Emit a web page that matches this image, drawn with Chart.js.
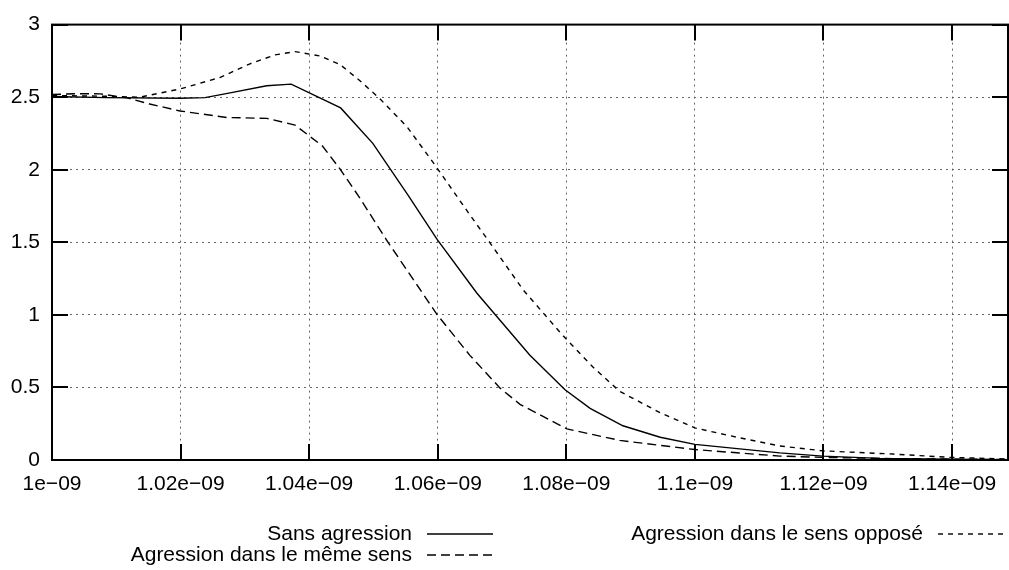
<!DOCTYPE html>
<html>
<head>
<meta charset="utf-8">
<script src="https://cdn.jsdelivr.net/npm/chart.js@4.4.0/dist/chart.umd.min.js"></script>
<style>
  html, body { margin: 0; padding: 0; background: #fff; }
  #wrap { width: 1009px; height: 570px; }
</style>
</head>
<body>
<div id="wrap"><canvas id="myChart" width="1009" height="570"></canvas></div>
<script>
// tick values
const xTicks = [1.00e-9, 1.02e-9, 1.04e-9, 1.06e-9, 1.08e-9, 1.10e-9, 1.12e-9, 1.14e-9];
const yTicks = [0, 0.5, 1, 1.5, 2, 2.5, 3];
const xMin = 1.0e-9;
const xMax = 1.1487e-9;

// Sans agression
const sansX = [1.0000e-9, 1.0084e-9, 1.0199e-9, 1.0238e-9, 1.0277e-9, 1.0334e-9, 1.0372e-9, 1.0449e-9,
  1.0499e-9, 1.0554e-9, 1.0599e-9, 1.0661e-9, 1.0743e-9, 1.0798e-9, 1.0837e-9, 1.0888e-9,
  1.0946e-9, 1.1000e-9, 1.1132e-9, 1.1199e-9, 1.1288e-9, 1.1397e-9, 1.1487e-9];
const sansY = [2.505, 2.497, 2.493, 2.497, 2.530, 2.579, 2.590, 2.426,
  2.182, 1.824, 1.520, 1.149, 0.723, 0.484, 0.356, 0.236,
  0.157, 0.108, 0.049, 0.027, 0.011, 0.005, 0.002];

// Agression dans le même sens
const memeX = [1.0000e-9, 1.0036e-9, 1.0075e-9, 1.0117e-9, 1.0152e-9, 1.0199e-9, 1.0272e-9, 1.0334e-9,
  1.0378e-9, 1.0401e-9, 1.0421e-9, 1.0448e-9, 1.0476e-9, 1.0523e-9, 1.0599e-9, 1.0650e-9,
  1.0697e-9, 1.0728e-9, 1.0801e-9, 1.0883e-9, 1.1000e-9, 1.1132e-9, 1.1199e-9, 1.1319e-9, 1.1487e-9];
const memeY = [2.518, 2.524, 2.523, 2.495, 2.453, 2.405, 2.360, 2.354,
  2.308, 2.230, 2.162, 2.005, 1.824, 1.498, 1.002, 0.721,
  0.495, 0.383, 0.214, 0.135, 0.072, 0.027, 0.018, 0.009, 0.003];

// Agression dans le sens opposé
const opposeX = [1.0000e-9, 1.0075e-9, 1.0137e-9, 1.0199e-9, 1.0261e-9, 1.0308e-9, 1.0347e-9, 1.0378e-9,
  1.0417e-9, 1.0448e-9, 1.0479e-9, 1.0510e-9, 1.0552e-9, 1.0593e-9, 1.0650e-9, 1.0681e-9,
  1.0733e-9, 1.0795e-9, 1.0841e-9, 1.0883e-9, 1.0946e-9, 1.1000e-9, 1.1065e-9, 1.1132e-9,
  1.1199e-9, 1.1308e-9, 1.1397e-9, 1.1487e-9];
const opposeY = [2.511, 2.507, 2.500, 2.556, 2.635, 2.730, 2.791, 2.814,
  2.784, 2.725, 2.613, 2.489, 2.297, 2.049, 1.689, 1.498,
  1.171, 0.856, 0.642, 0.473, 0.326, 0.221, 0.157, 0.097,
  0.063, 0.041, 0.018, 0.007];

const labels = ['Sans agression', 'Agression dans le même sens', 'Agression dans le sens opposé'];
const FONT = '"Liberation Sans", Arial, sans-serif';

function pts(xs, ys) {
  return xs.map((x, i) => ({ x: x, y: ys[i] }));
}

function fmtX(v) {
  let s = (Math.round(v * 1e9 * 100) / 100).toString();
  return s + 'e\u221209';
}

// cadre + graduations vers l'intérieur + légende façon gnuplot
const gnuplotFrame = {
  id: 'gnuplotFrame',
  afterDraw(chart) {
    const ctx = chart.ctx;
    const a = chart.chartArea;
    const xs = chart.scales.x, ys = chart.scales.y;
    ctx.save();
    ctx.strokeStyle = '#000';
    ctx.lineWidth = 2;
    ctx.setLineDash([]);
    ctx.strokeRect(a.left, a.top, a.right - a.left, a.bottom - a.top);
    ctx.beginPath();
    xTicks.forEach(v => {
      const px = Math.round(xs.getPixelForValue(v));
      ctx.moveTo(px, a.bottom); ctx.lineTo(px, a.bottom - 16);
      ctx.moveTo(px, a.top); ctx.lineTo(px, a.top + 16);
    });
    yTicks.forEach(v => {
      const py = Math.round(ys.getPixelForValue(v));
      ctx.moveTo(a.left, py); ctx.lineTo(a.left + 16, py);
      ctx.moveTo(a.right, py); ctx.lineTo(a.right - 16, py);
    });
    ctx.stroke();

    // légende
    ctx.font = '21px ' + FONT;
    ctx.fillStyle = '#000';
    ctx.textAlign = 'right';
    ctx.textBaseline = 'middle';
    const rows = [
      { i: 0, tx: 412, lx0: 427, lx1: 493, y: 534 },
      { i: 1, tx: 412, lx0: 427, lx1: 493, y: 555 },
      { i: 2, tx: 923, lx0: 938, lx1: 1005, y: 534 }
    ];
    rows.forEach(r => {
      const ds = chart.data.datasets[r.i];
      ctx.fillText(labels[r.i], r.tx, r.y);
      ctx.lineWidth = ds.borderWidth;
      ctx.setLineDash(ds.borderDash || []);
      ctx.beginPath();
      ctx.moveTo(r.lx0, r.y); ctx.lineTo(r.lx1, r.y);
      ctx.stroke();
    });
    ctx.restore();
  }
};

const ctx = document.getElementById('myChart').getContext('2d');
const myChart = new Chart(ctx, {
  type: 'line',
  data: {
    datasets: [{
      label: labels[0],
      data: pts(sansX, sansY),
      borderColor: '#000',
      borderWidth: 1.4,
      pointRadius: 0,
      tension: 0
    }, {
      label: labels[1],
      data: pts(memeX, memeY),
      borderColor: '#000',
      borderWidth: 1.4,
      borderDash: [9, 5],
      pointRadius: 0,
      tension: 0
    }, {
      label: labels[2],
      data: pts(opposeX, opposeY),
      borderColor: '#000',
      borderWidth: 1.4,
      borderDash: [5, 5],
      pointRadius: 0,
      tension: 0
    }]
  },
  options: {
    responsive: false,
    animation: false,
    layout: { padding: { top: 16, right: 1, left: 0, bottom: 0 } },
    plugins: { legend: { display: false }, tooltip: { enabled: false } },
    scales: {
      x: {
        type: 'linear',
        min: xMin,
        max: xMax,
        afterBuildTicks: s => { s.ticks = xTicks.map(v => ({ value: v })); },
        afterFit: s => { s.height = 110; },
        grid: { color: '#666', lineWidth: 1, drawTicks: false },
        border: { display: false, dash: [2, 4] },
        ticks: {
          padding: 12,
          color: '#000',
          font: { family: FONT, size: 21 },
          maxRotation: 0,
          autoSkip: false,
          callback: v => fmtX(v)
        }
      },
      y: {
        min: 0,
        max: 3,
        afterBuildTicks: s => { s.ticks = yTicks.map(v => ({ value: v })); },
        afterFit: s => { s.width = 52; },
        grid: { color: '#666', lineWidth: 1, drawTicks: false },
        border: { display: false, dash: [2, 4] },
        ticks: {
          padding: 12,
          color: '#000',
          font: { family: FONT, size: 21 },
          callback: v => v.toString()
        }
      }
    }
  },
  plugins: [gnuplotFrame]
});
</script>
</body>
</html>
